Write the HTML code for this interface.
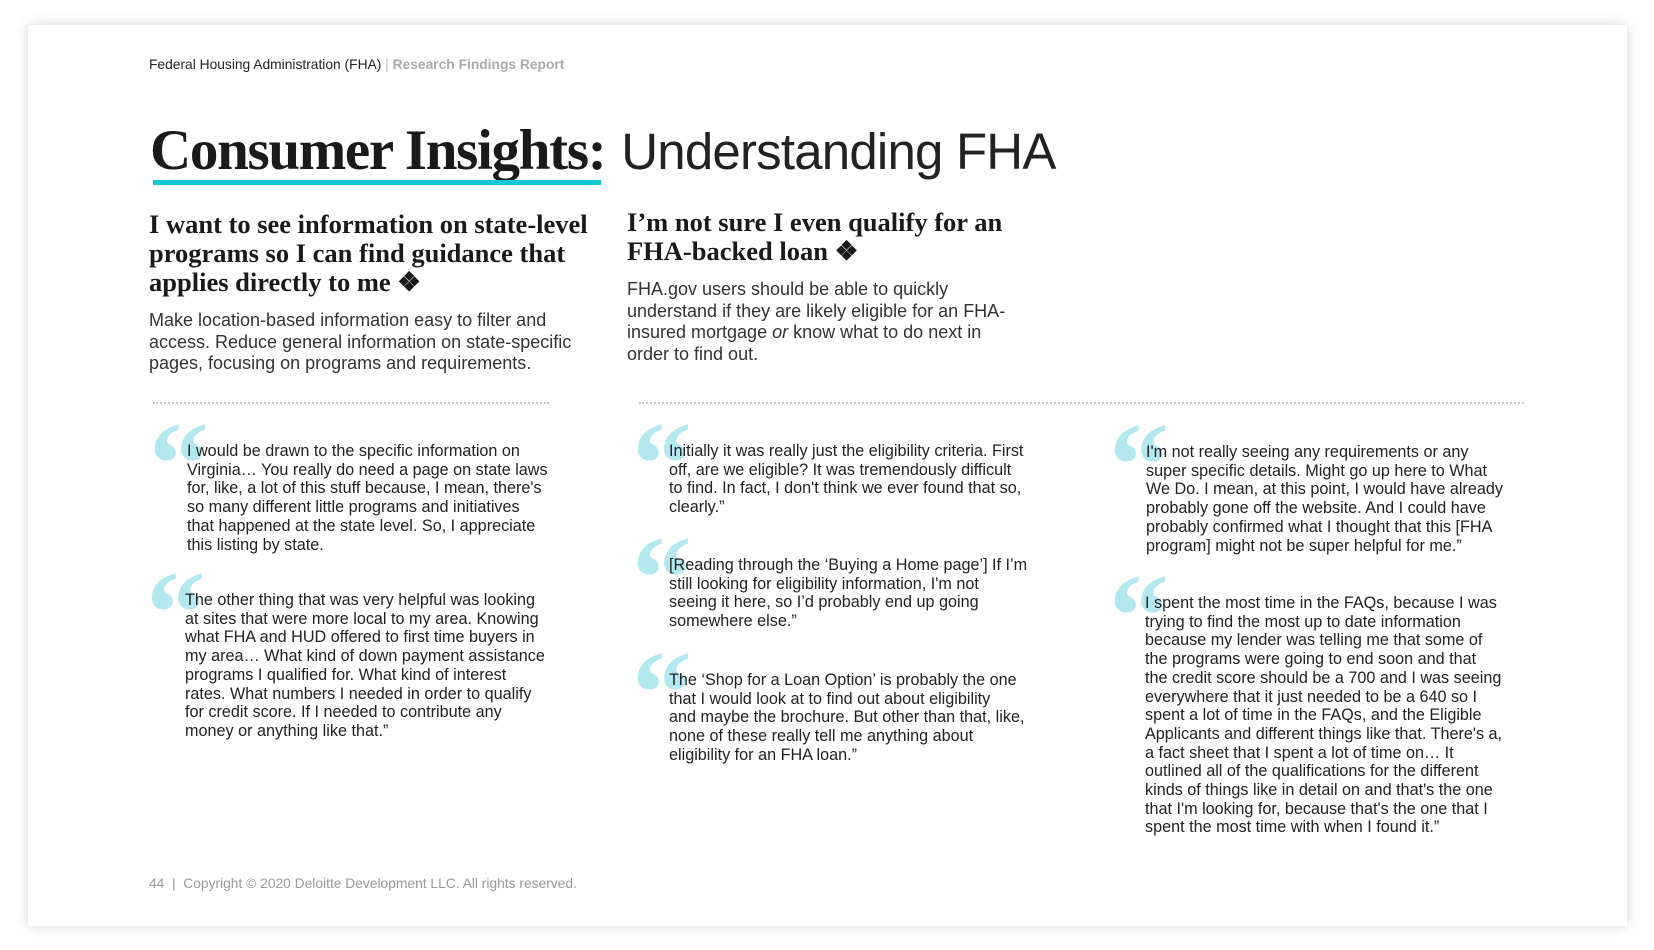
<!DOCTYPE html>
<html><head><meta charset="utf-8"><style>
*{margin:0;padding:0;box-sizing:border-box}
body{width:1654px;height:950px;background:#fff;position:relative;overflow:hidden;font-family:"Liberation Sans",sans-serif;color:#222}
.card{position:absolute;left:28px;top:25px;width:1599px;height:901px;background:#fff;box-shadow:0 0 12px rgba(0,0,0,.18)}
.a{position:absolute;white-space:nowrap}
.hd{font-family:"Liberation Serif",serif;font-weight:bold;font-size:26.5px;line-height:29px;color:#1a1a1a}
.bd{font-size:18px;line-height:21.5px;color:#333}
.q{font-size:16.2px;line-height:18.7px;color:#222}
.qm{position:absolute;font-family:"Liberation Serif",serif;font-weight:bold;font-size:120px;line-height:120px;color:#b3e8ef}
.dots{position:absolute;height:0;border-top:2px dotted #c8c8c8}
</style></head><body>
<div class="card"></div>
<div class="a" style="left:149px;top:57px;font-size:13.8px;color:#222">Federal Housing Administration (FHA) <span style="color:#bbb">|</span> <b style="color:#aaa">Research Findings Report</b></div>
<div class="a" style="left:150px;top:120px;font-size:57px;line-height:60px"><span style="font-family:'Liberation Serif',serif;font-weight:bold;letter-spacing:-1.3px;color:#1a1a1a">Consumer Insights:</span> <span style="color:#222;font-size:51px;letter-spacing:-0.8px">Understanding FHA</span></div>
<div class="a" style="left:153px;top:180px;width:448px;height:5px;background:#14c8d4"></div>

<div class="a hd" style="left:149px;top:210px">I want to see information on state-level<br>programs so I can find guidance that<br>applies directly to me ❖</div>
<div class="a bd" style="left:149px;top:310px">Make location-based information easy to filter and<br>access. Reduce general information on state-specific<br>pages, focusing on programs and requirements.</div>
<div class="a hd" style="left:627px;top:208px">I’m not sure I even qualify for an<br>FHA-backed loan ❖</div>
<div class="a bd" style="left:627px;top:279px">FHA.gov users should be able to quickly<br>understand if they are likely eligible for an FHA-<br>insured mortgage <i>or</i> know what to do next in<br>order to find out.</div>

<div class="dots" style="left:153px;top:402px;width:396px"></div>
<div class="dots" style="left:639px;top:402px;width:885px"></div>

<div class="qm" style="left:149px;top:404px">“</div>
<div class="a q" style="left:187px;top:442px">I would be drawn to the specific information on<br>Virginia… You really do need a page on state laws<br>for, like, a lot of this stuff because, I mean, there's<br>so many different little programs and initiatives<br>that happened at the state level. So, I appreciate<br>this listing by state.</div>
<div class="qm" style="left:146px;top:553px">“</div>
<div class="a q" style="left:185px;top:591px">The other thing that was very helpful was looking<br>at sites that were more local to my area. Knowing<br>what FHA and HUD offered to first time buyers in<br>my area… What kind of down payment assistance<br>programs I qualified for. What kind of interest<br>rates. What numbers I needed in order to qualify<br>for credit score. If I needed to contribute any<br>money or anything like that.”</div>

<div class="qm" style="left:632px;top:404px">“</div>
<div class="a q" style="left:669px;top:442px">Initially it was really just the eligibility criteria. First<br>off, are we eligible? It was tremendously difficult<br>to find. In fact, I don't think we ever found that so,<br>clearly.”</div>
<div class="qm" style="left:632px;top:518px">“</div>
<div class="a q" style="left:669px;top:556px">[Reading through the ‘Buying a Home page’] If I’m<br>still looking for eligibility information, I'm not<br>seeing it here, so I’d probably end up going<br>somewhere else.”</div>
<div class="qm" style="left:632px;top:633px">“</div>
<div class="a q" style="left:669px;top:671px">The ‘Shop for a Loan Option’ is probably the one<br>that I would look at to find out about eligibility<br>and maybe the brochure. But other than that, like,<br>none of these really tell me anything about<br>eligibility for an FHA loan.”</div>

<div class="qm" style="left:1109px;top:405px">“</div>
<div class="a q" style="left:1146px;top:443px">I'm not really seeing any requirements or any<br>super specific details. Might go up here to What<br>We Do. I mean, at this point, I would have already<br>probably gone off the website. And I could have<br>probably confirmed what I thought that this [FHA<br>program] might not be super helpful for me.”</div>
<div class="qm" style="left:1109px;top:556px">“</div>
<div class="a q" style="left:1145px;top:594px">I spent the most time in the FAQs, because I was<br>trying to find the most up to date information<br>because my lender was telling me that some of<br>the programs were going to end soon and that<br>the credit score should be a 700 and I was seeing<br>everywhere that it just needed to be a 640 so I<br>spent a lot of time in the FAQs, and the Eligible<br>Applicants and different things like that. There's a,<br>a fact sheet that I spent a lot of time on… It<br>outlined all of the qualifications for the different<br>kinds of things like in detail on and that's the one<br>that I'm looking for, because that's the one that I<br>spent the most time with when I found it.”</div>

<div class="a" style="left:149px;top:876px;font-size:13.8px;color:#999">44 &nbsp;|&nbsp; Copyright © 2020 Deloitte Development LLC. All rights reserved.</div>
</body></html>
